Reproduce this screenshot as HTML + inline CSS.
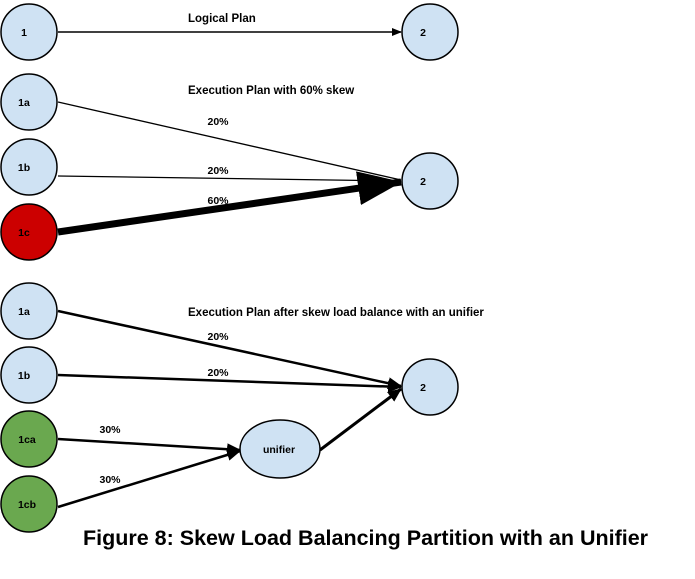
<!DOCTYPE html>
<html><head><style>body{margin:0;background:#fff}</style></head><body>
<svg width="695" height="574" xmlns="http://www.w3.org/2000/svg" font-family="Liberation Sans, sans-serif" font-weight="bold">
<defs>
<marker id="a" markerWidth="10" markerHeight="8" refX="9" refY="4" orient="auto" markerUnits="userSpaceOnUse"><path d="M0,0L10,4L0,8z" fill="#000"/></marker>
<marker id="b" markerWidth="14" markerHeight="12" refX="13" refY="6" orient="auto" markerUnits="userSpaceOnUse"><path d="M0,0L14,6L0,12z" fill="#000"/></marker>
<marker id="c" markerWidth="44" markerHeight="34" refX="43" refY="17" orient="auto" markerUnits="userSpaceOnUse"><path d="M0,0L44,17L0,34z" fill="#000"/></marker>
</defs>
<g stroke="#000" fill="none">
<line x1="58" y1="32" x2="401" y2="32" stroke-width="1.5" marker-end="url(#a)"/>
<line x1="58" y1="102" x2="401" y2="180" stroke-width="1.3"/>
<line x1="58" y1="176" x2="401" y2="181" stroke-width="1.3"/>
<line x1="58" y1="232" x2="401" y2="182" stroke-width="7" marker-end="url(#c)"/>
<line x1="58" y1="311" x2="401" y2="386" stroke-width="2.5" marker-end="url(#b)"/>
<line x1="58" y1="375" x2="401" y2="387" stroke-width="2.5" marker-end="url(#b)"/>
<line x1="58" y1="439" x2="240" y2="450" stroke-width="2.5" marker-end="url(#b)"/>
<line x1="58" y1="507" x2="240" y2="451" stroke-width="2.5" marker-end="url(#b)"/>
<line x1="320" y1="450" x2="401" y2="389" stroke-width="3" marker-end="url(#b)"/>
</g>
<g stroke="#000" stroke-width="1.5">
<circle cx="29" cy="32" r="28" fill="#cfe2f3"/>
<circle cx="430" cy="32" r="28" fill="#cfe2f3"/>
<circle cx="29" cy="102" r="28" fill="#cfe2f3"/>
<circle cx="29" cy="167" r="28" fill="#cfe2f3"/>
<circle cx="29" cy="232" r="28" fill="#cc0000"/>
<circle cx="430" cy="181" r="28" fill="#cfe2f3"/>
<circle cx="29" cy="311" r="28" fill="#cfe2f3"/>
<circle cx="29" cy="375" r="28" fill="#cfe2f3"/>
<circle cx="29" cy="439" r="28" fill="#6aa84f"/>
<circle cx="29" cy="504" r="28" fill="#6aa84f"/>
<circle cx="430" cy="387" r="28" fill="#cfe2f3"/>
<ellipse cx="280" cy="449" rx="40" ry="29" fill="#cfe2f3"/>
</g>
<g font-size="10.5" text-anchor="middle">
<text x="24" y="36">1</text><text x="423" y="36">2</text>
<text x="24" y="106">1a</text><text x="24" y="171">1b</text><text x="24" y="236">1c</text>
<text x="423" y="185">2</text>
<text x="24" y="315">1a</text><text x="24" y="379">1b</text><text x="27" y="443">1ca</text><text x="27" y="508">1cb</text>
<text x="423" y="391">2</text><text x="279" y="453">unifier</text>
<text x="218" y="125">20%</text><text x="218" y="174">20%</text><text x="218" y="204">60%</text>
<text x="218" y="340">20%</text><text x="218" y="376">20%</text>
<text x="110" y="433">30%</text><text x="110" y="483">30%</text>
</g>
<g font-size="11.5">
<text x="188" y="22">Logical Plan</text>
<text x="188" y="94">Execution Plan with 60% skew</text>
<text x="188" y="316">Execution Plan after skew load balance with an unifier</text>
</g>
<text x="83" y="545" font-size="21.5">Figure 8: Skew Load Balancing Partition with an Unifier</text>
</svg>
</body></html>
